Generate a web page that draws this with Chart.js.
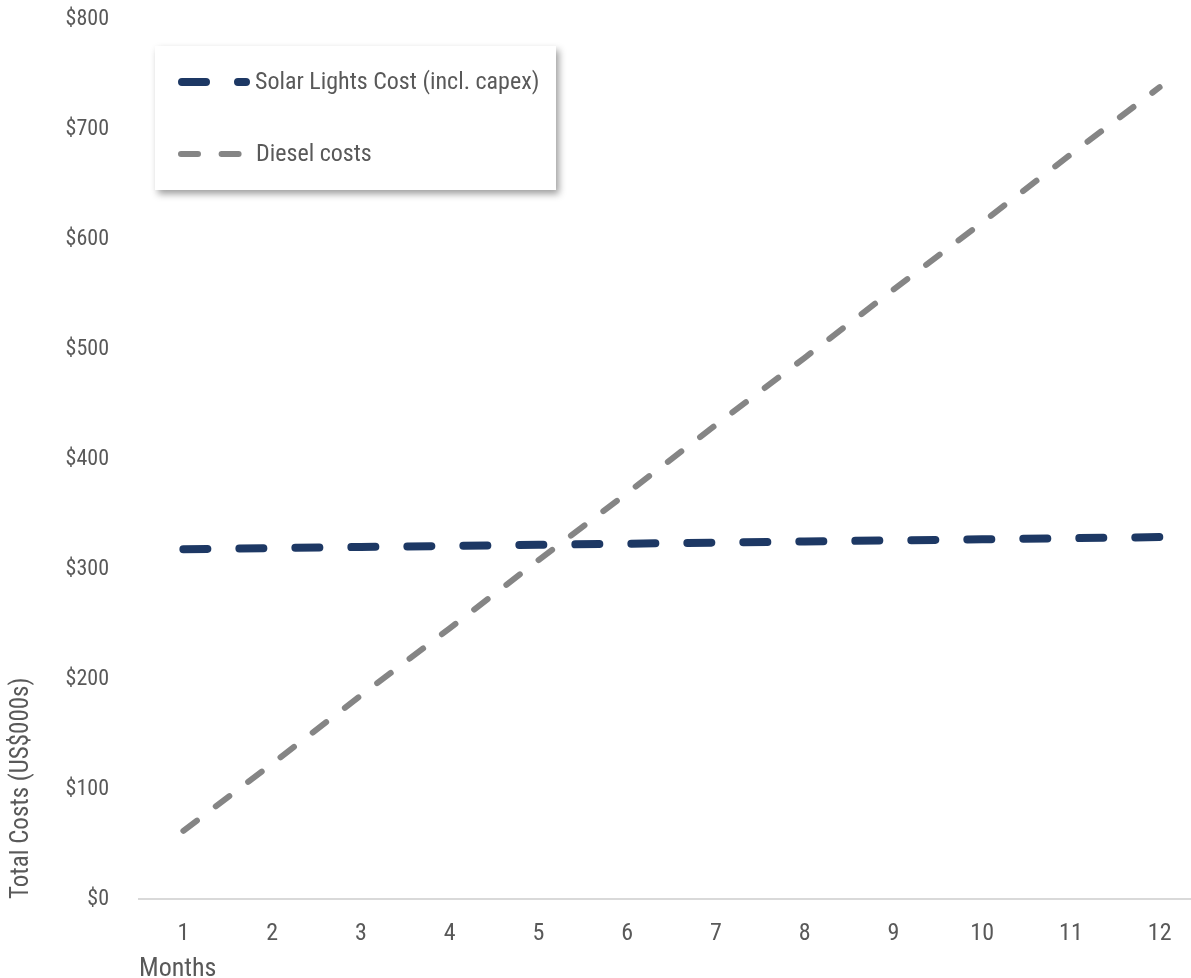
<!DOCTYPE html>
<html>
<head>
<meta charset="utf-8">
<script src="https://cdn.jsdelivr.net/npm/chart.js@4/dist/chart.umd.min.js"></script>
<style>
  html, body { margin: 0; padding: 0; background: #ffffff; }
  #wrap { width: 1191px; height: 978px; overflow: hidden; position: relative; }
  #box { width: 1204px; height: 990px; position: absolute; left: 0; top: 0; }
</style>
</head>
<body>
<div id="wrap"><div id="box"><canvas id="c"></canvas></div></div>
<script>
// Cumulative cost per month, US$000s
const months = ['1', '2', '3', '4', '5', '6', '7', '8', '9', '10', '11', '12'];
const solarCost = [318, 319, 320, 321, 322, 323, 324, 325, 326, 327, 328, 329];
const dieselCost = [62, 123, 185, 246, 308, 369, 431, 492, 554, 615, 677, 738];
const seriesNames = ['Solar Lights Cost (incl. capex)', 'Diesel costs'];
const yTickValues = [0, 100, 200, 300, 400, 500, 600, 700, 800];

const FONT = '"Liberation Sans Narrow", "Arial Narrow", "Roboto Condensed", "DejaVu Sans Condensed", sans-serif';
const TEXT = '#595959';
const NAVY = '#1d3864';
const GREY = '#858585';

// Boxed legend with a soft drop shadow, drawn on the canvas
const boxLegend = {
  id: 'boxLegend',
  afterDatasetsDraw(chart) {
    const ctx = chart.ctx;
    const x = 155, y = 46, w = 401, h = 144;
    ctx.save();
    ctx.shadowColor = 'rgba(0,0,0,0.38)';
    ctx.shadowBlur = 7;
    ctx.shadowOffsetX = 3;
    ctx.shadowOffsetY = 4;
    ctx.fillStyle = '#ffffff';
    ctx.fillRect(x, y, w, h);
    ctx.restore();

    const rows = [
      { yc: 82, x1: 182, x2: 246, textX: 255 },
      { yc: 154, x1: 181, x2: 240, textX: 256 }
    ];
    chart.data.datasets.forEach((ds, i) => {
      const r = rows[i];
      ctx.save();
      ctx.strokeStyle = ds.borderColor;
      ctx.lineWidth = ds.borderWidth;
      ctx.lineCap = 'round';
      ctx.setLineDash(ds.borderDash);
      ctx.beginPath();
      ctx.moveTo(r.x1, r.yc);
      ctx.lineTo(r.x2, r.yc);
      ctx.stroke();
      ctx.restore();
      ctx.save();
      ctx.fillStyle = TEXT;
      ctx.font = '24px ' + FONT;
      ctx.textBaseline = 'middle';
      ctx.textAlign = 'left';
      ctx.fillText(ds.label, r.textX, r.yc + 1);
      ctx.restore();
    });
  }
};

new Chart(document.getElementById('c'), {
  type: 'line',
  data: {
    labels: months,
    datasets: [
      {
        label: seriesNames[0],
        data: solarCost,
        borderColor: NAVY,
        borderWidth: 8,
        borderDash: [24, 32],
        borderCapStyle: 'round',
        pointRadius: 0,
        fill: false,
        tension: 0
      },
      {
        label: seriesNames[1],
        data: dieselCost,
        borderColor: GREY,
        borderWidth: 6,
        borderDash: [17, 23.6],
        borderCapStyle: 'round',
        pointRadius: 0,
        fill: false,
        tension: 0
      }
    ]
  },
  options: {
    responsive: true,
    maintainAspectRatio: false,
    animation: false,
    events: [],
    layout: { padding: { top: 19, right: 0, bottom: 0, left: 0 } },
    plugins: {
      legend: { display: false },
      tooltip: { enabled: false }
    },
    scales: {
      x: {
        offset: true,
        grid: { display: false, drawTicks: false },
        border: { display: true, color: '#d9d9d9', width: 2 },
        ticks: { color: TEXT, font: { family: FONT, size: 24 }, padding: 21, maxRotation: 0 },
        title: {
          display: true, text: 'Months', align: 'start', color: TEXT,
          font: { family: FONT, size: 26 }, padding: { top: 0, bottom: 5 }
        },
        afterFit(axis) {
          axis.height = 91;
          axis.paddingLeft = 0;
          axis.paddingRight = 0;
        }
      },
      y: {
        min: 0, max: 800,
        grid: { display: false, drawTicks: false },
        border: { display: false },
        afterBuildTicks(axis) { axis.ticks = yTickValues.map(v => ({ value: v })); },
        ticks: {
          color: TEXT, font: { family: FONT, size: 22 }, padding: 30,
          callback: v => '$' + v
        },
        title: {
          display: true, text: 'Total Costs (US$000s)', align: 'start', color: TEXT,
          font: { family: FONT, size: 25 }, padding: { top: 7, bottom: 0 }
        },
        afterFit(axis) {
          axis.width = 139;
          axis.paddingTop = 0;
          axis.paddingBottom = 0;
        }
      }
    }
  },
  plugins: [boxLegend]
});
</script>
</body>
</html>
